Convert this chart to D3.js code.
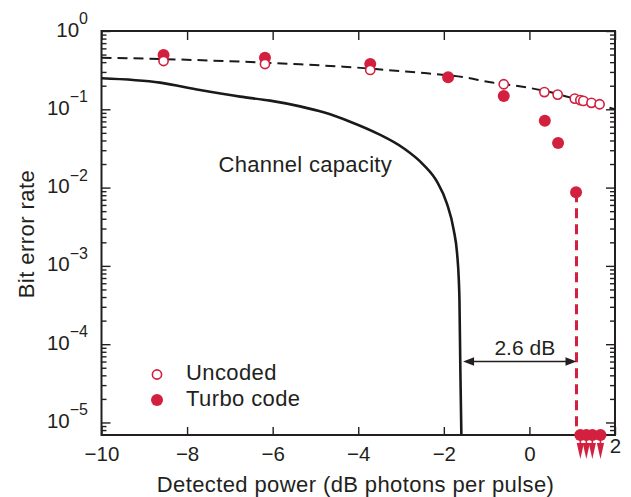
<!DOCTYPE html>
<html><head><meta charset="utf-8">
<script src="https://cdn.jsdelivr.net/npm/d3@7"></script>
<style>
body{margin:0;background:#fff}
svg{display:block}
text{font-family:"Liberation Sans",Arial,Helvetica,sans-serif;fill:#231f20}
</style>
</head><body>
<svg id="c" width="631" height="497"></svg>
<script>
// ---------- data ----------
const xTicks = [-10, -8, -6, -4, -2, 0, 2];
const yDecades = [0, -1, -2, -3, -4, -5];

// Channel capacity (solid black curve)
const capacityX   = [-10, -8.63, -7.70, -6.76, -6.06, -5.36, -4.81, -4.19, -3.56, -2.94, -2.47, -2.16, -1.93, -1.77, -1.69, -1.65, -1.635, -1.614, -1.59];
const capacityBER = [0.249, 0.219, 0.176, 0.145, 0.129, 0.109, 0.0916, 0.0695, 0.0493, 0.0318, 0.0194, 0.0119, 0.0063, 0.0029, 0.00144, 0.00066, 0.000366, 0.000047, 0.0000069];

// Uncoded theory (dashed black curve)
const uncodedTheoryX   = [-10, -8.63, -6.18, -5.36, -4.34, -3.02, -2.39, -1.46, -0.91, -0.6, 0.33, 1.03, 2];
const uncodedTheoryBER = [0.456, 0.439, 0.394, 0.375, 0.35, 0.308, 0.288, 0.253, 0.221, 0.21, 0.173, 0.138, 0.1];

// Uncoded measurements (open circles)
const uncodedX   = [-8.55, -6.18, -3.72, -0.6, 0.35, 0.66, 1.06, 1.19, 1.26, 1.45, 1.64];
const uncodedBER = [0.414, 0.379, 0.318, 0.209, 0.166, 0.154, 0.137, 0.131, 0.128, 0.121, 0.116];

// Turbo code measurements (filled circles)
const turboX   = [-8.55, -6.18, -3.72, -1.9, -0.6, 0.36, 0.67, 1.09];
const turboBER = [0.493, 0.456, 0.379, 0.256, 0.148, 0.0715, 0.037, 0.0087];
// Turbo code points with no errors observed (plotted at floor, with down arrows)
const turboZeroX = [1.19, 1.33, 1.47, 1.66];

// Annotation: gap to capacity
const gapFromX = -1.55, gapToX = 1.1, gapBER = 6e-5, gapLabel = "2.6 dB";

const seriesNames = ["Uncoded", "Turbo code"];
const xTitle = "Detected power (dB photons per pulse)";
const yTitle = "Bit error rate";
const curveLabel = "Channel capacity";

// ---------- layout ----------
const RED = "#d2203e", INK = "#231f20";
const yMin = Math.pow(10, -5.16);
const m = {l: 101.5, r: 615, t: 31, b: 435};
const svg = d3.select("#c");
const x = d3.scaleLinear().domain([-10, 2]).range([m.l, m.r]);
const y = d3.scaleLog().domain([yMin, 1]).range([m.b, m.t]);

svg.append("defs").append("clipPath").attr("id", "clip")
  .append("rect").attr("x", m.l).attr("y", m.t).attr("width", m.r - m.l).attr("height", m.b - m.t);

// ---------- axes ----------
const major = yDecades.map(d => Math.pow(10, d));
const minor = [];
for (let e = -6; e < 0; e++) for (let k = 2; k <= 9; k++) { const v = k * Math.pow(10, e); if (v >= yMin && v < 1) minor.push(v); }

function styleAxis(g) {
  g.select(".domain").remove();
  g.selectAll(".tick line").attr("stroke", INK).attr("stroke-width", 1.4);
}
svg.append("g").attr("transform", `translate(${m.l},0)`)
  .call(d3.axisLeft(y).tickValues(major).tickSize(-9).tickFormat("")).call(styleAxis);
svg.append("g").attr("transform", `translate(${m.l},0)`)
  .call(d3.axisLeft(y).tickValues(minor).tickSize(-5).tickFormat("")).call(styleAxis);
svg.append("g").attr("transform", `translate(${m.r},0)`)
  .call(d3.axisRight(y).tickValues(major).tickSize(-9).tickFormat("")).call(styleAxis);
svg.append("g").attr("transform", `translate(${m.r},0)`)
  .call(d3.axisRight(y).tickValues(minor).tickSize(-5).tickFormat("")).call(styleAxis);
svg.append("g").attr("transform", `translate(0,${m.t})`)
  .call(d3.axisTop(x).tickValues(xTicks).tickSize(-9).tickFormat("")).call(styleAxis);
const xb = svg.append("g").attr("transform", `translate(0,${m.b})`)
  .call(d3.axisBottom(x).tickValues(xTicks).tickSize(-8).tickPadding(11)
    .tickFormat(d => d < 0 ? "\u2212" + Math.abs(d) : String(d)))
  .call(styleAxis);
xb.selectAll(".tick text").attr("font-size", 20.5).attr("font-family", null).attr("fill", INK)
  .attr("dy", d => d === 2 ? "0.36em" : "0.71em");

// y tick labels with superscripts
const yl = svg.append("g");
yDecades.forEach(d => {
  const t = yl.append("text").attr("x", 88).attr("y", y(Math.pow(10, d)) + 5.5)
    .attr("text-anchor", "end").attr("font-size", 20.5);
  t.append("tspan").text("10");
  t.append("tspan").attr("dy", -12.5).attr("font-size", 16).text(d === 0 ? "0" : "\u2212" + Math.abs(d));
});

// frame
svg.append("rect").attr("x", m.l).attr("y", m.t).attr("width", m.r - m.l).attr("height", m.b - m.t)
  .attr("fill", "none").attr("stroke", INK).attr("stroke-width", 2);

// titles
svg.append("text").attr("x", 355.5).attr("y", 491.5).attr("text-anchor", "middle")
  .attr("font-size", 22).attr("letter-spacing", 0.4).text(xTitle);
svg.append("text").attr("transform", "translate(33.5,234) rotate(-90)").attr("text-anchor", "middle")
  .attr("font-size", 22).attr("letter-spacing", 0.45).text(yTitle);

// ---------- curves ----------
const plot = svg.append("g").attr("clip-path", "url(#clip)");
const line = d3.line().x(d => x(d[0])).y(d => y(d[1])).curve(d3.curveMonotoneX);

plot.append("path").datum(d3.zip(capacityX, capacityBER)).attr("d", line)
  .attr("fill", "none").attr("stroke", "#1a1a1a").attr("stroke-width", 2.6);
plot.append("path").datum(d3.zip(uncodedTheoryX, uncodedTheoryBER)).attr("d", line)
  .attr("fill", "none").attr("stroke", "#1a1a1a").attr("stroke-width", 2).attr("stroke-dasharray", "10,6");

svg.append("text").attr("x", 218.5).attr("y", 171.5).attr("font-size", 22)
  .attr("letter-spacing", 0.3).text(curveLabel);

// red dashed vertical line from last turbo point to floor
const lastT = turboX.length - 1;
svg.append("line").attr("x1", x(gapToX)).attr("x2", x(gapToX))
  .attr("y1", y(turboBER[lastT])).attr("y2", m.b)
  .attr("stroke", RED).attr("stroke-width", 3).attr("stroke-dasharray", "10,6");

// gap annotation arrow
const ay = y(gapBER);
svg.append("line").attr("x1", x(gapFromX) + 6).attr("x2", x(gapToX) - 6).attr("y1", ay).attr("y2", ay)
  .attr("stroke", INK).attr("stroke-width", 1.6);
const ah = 11, aw = 4.2;
svg.append("path").attr("fill", INK)
  .attr("d", `M${x(gapFromX)},${ay}L${x(gapFromX)+ah},${ay-aw}L${x(gapFromX)+ah},${ay+aw}Z`);
svg.append("path").attr("fill", INK)
  .attr("d", `M${x(gapToX)},${ay}L${x(gapToX)-ah},${ay-aw}L${x(gapToX)-ah},${ay+aw}Z`);
svg.append("text").attr("x", (x(gapFromX) + x(gapToX)) / 2 + 5).attr("y", ay - 7)
  .attr("text-anchor", "middle").attr("font-size", 21).text(gapLabel);

// ---------- points ----------
// zero-error turbo points at floor, with arrows
turboZeroX.forEach(v => {
  const cx = x(v);
  svg.append("line").attr("x1", cx).attr("x2", cx).attr("y1", m.b).attr("y2", m.b + 10)
    .attr("stroke", RED).attr("stroke-width", 1.6);
  svg.append("path").attr("fill", RED)
    .attr("d", `M${cx-3.6},${m.b+8}L${cx+3.6},${m.b+8}L${cx},${m.b+24}Z`);
});
svg.append("g").selectAll("circle").data(turboZeroX).join("circle")
  .attr("cx", d => x(d)).attr("cy", m.b).attr("r", 6).attr("fill", RED);

svg.append("g").selectAll("circle").data(d3.zip(turboX, turboBER)).join("circle")
  .attr("cx", d => x(d[0])).attr("cy", d => y(d[1])).attr("r", 6).attr("fill", RED);
svg.append("g").selectAll("circle").data(d3.zip(uncodedX, uncodedBER)).join("circle")
  .attr("cx", d => x(d[0])).attr("cy", d => y(d[1])).attr("r", 4.6)
  .attr("fill", "#fff").attr("stroke", RED).attr("stroke-width", 1.6);

// ---------- legend ----------
const lg = svg.append("g");
lg.append("circle").attr("cx", 157).attr("cy", 374.5).attr("r", 4.6)
  .attr("fill", "#fff").attr("stroke", RED).attr("stroke-width", 1.6);
lg.append("circle").attr("cx", 157).attr("cy", 400).attr("r", 6).attr("fill", RED);
lg.append("text").attr("x", 186).attr("y", 380).attr("font-size", 22).attr("letter-spacing", 0.4).text(seriesNames[0]);
lg.append("text").attr("x", 186).attr("y", 406).attr("font-size", 22).attr("letter-spacing", 0.4).text(seriesNames[1]);
</script>
</body></html>
